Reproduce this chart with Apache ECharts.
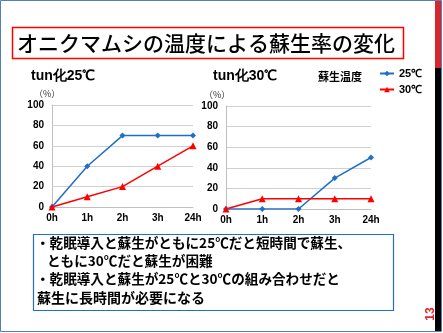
<!DOCTYPE html>
<html><head><meta charset="utf-8">
<script src="https://cdn.jsdelivr.net/npm/echarts@6/dist/echarts.min.js"></script>
<style>html,body{margin:0;padding:0;background:#fff}#c{width:443px;height:333px}</style>
</head><body><div id="c"></div>
<script>
const categories = ['0h','1h','2h','3h','24h'];
const tun25_r25 = [0,40,70,70,70];
const tun25_r30 = [0,10,20,40,60];
const tun30_r25 = [0,0,0,30,50];
const tun30_r30 = [0,10,10,10,10];
const yTicks = [0,20,40,60,80,100];
const seriesNames = ['25℃','30℃'];

const BLUE = '#1f6fc6', RED = '#ff0000';
const jp = '"Noto Sans CJK JP", sans-serif';
const ar = 'Arial, "Liberation Sans", sans-serif';

const chart = echarts.init(document.getElementById('c'), null, {renderer:'canvas'});
function xAxis(i){return {gridIndex:i,type:'category',data:categories,boundaryGap:false,
  axisLine:{lineStyle:{color:'#bfbfbf'}},axisTick:{show:false},
  axisLabel:{color:'#000',fontWeight:'bold',fontFamily:ar,fontSize:10,margin:6}};}
function yAxis(i){return {gridIndex:i,type:'value',min:yTicks[0],max:yTicks[yTicks.length-1],interval:20,
  axisLine:{show:true,lineStyle:{color:'#bfbfbf'}},axisTick:{show:false},
  splitLine:{lineStyle:{color:'#d0d0d0'}},
  axisLabel:{color:'#000',fontWeight:'bold',fontFamily:ar,fontSize:10,margin:8}};}
function s(name,data,i){
  const b = name===seriesNames[0];
  return {name,type:'line',data,xAxisIndex:i,yAxisIndex:i,
    symbol:b?'diamond':'triangle',symbolSize:b?6:7,
    itemStyle:{color:b?BLUE:RED},lineStyle:{color:b?BLUE:RED,width:1.5}};
}
chart.setOption({
  animation:false,
  grid:[{left:52,top:105,width:141,height:102},{left:226,top:106,width:145,height:103}],
  xAxis:[xAxis(0),xAxis(1)],
  yAxis:[yAxis(0),yAxis(1)],
  legend:{orient:'vertical',left:374,top:63,itemGap:5,itemWidth:14,itemHeight:7,
    data:seriesNames,textStyle:{fontFamily:ar,fontWeight:'bold',fontSize:11,color:'#000'}},
  series:[s(seriesNames[0],tun25_r25,0),s(seriesNames[1],tun25_r30,0),
          s(seriesNames[0],tun30_r25,1),s(seriesNames[1],tun30_r30,1)],
  graphic:[
    {type:'rect',shape:{x:0.5,y:0.5,width:441,height:331},style:{fill:null,stroke:'#4f81bd',lineWidth:1}},
    {type:'rect',shape:{x:435,y:1,width:6,height:67},style:{fill:'#d9262c'}},
    {type:'rect',shape:{x:435,y:68,width:6,height:263},style:{fill:'#000'}},
    {type:'rect',shape:{x:12.5,y:27.5,width:391,height:31},style:{fill:null,stroke:'#ff0000',lineWidth:1.5}},
    {type:'text',x:17,y:43,style:{text:'オニクマムシの温度による蘇生率の変化',font:'500 21px '+jp,fill:'#000',textVerticalAlign:'middle'}},
    {type:'text',x:31,y:76,style:{text:'tun化25℃',font:'bold 14px '+ar,fill:'#000',textVerticalAlign:'middle'}},
    {type:'text',x:213,y:76,style:{text:'tun化30℃',font:'bold 14px '+ar,fill:'#000',textVerticalAlign:'middle'}},
    {type:'text',x:34,y:94,style:{text:'（%）',font:'9px '+jp,fill:'#333',textVerticalAlign:'middle'}},
    {type:'text',x:204,y:95,style:{text:'（%）',font:'9px '+jp,fill:'#333',textVerticalAlign:'middle'}},
    {type:'text',x:318,y:77,style:{text:'蘇生温度',font:'bold 11px '+jp,fill:'#000',textVerticalAlign:'middle'}},
    {type:'rect',shape:{x:33.5,y:234.5,width:360,height:76},style:{fill:null,stroke:'#1f6fc6',lineWidth:1.2}},
    {type:'text',x:36,y:243,style:{text:'・乾眠導入と蘇生がともに25℃だと短時間で蘇生、',font:'bold 13.6px '+jp,fill:'#000',textVerticalAlign:'middle'}},
    {type:'text',x:47,y:261,style:{text:'ともに30℃だと蘇生が困難',font:'bold 13.6px '+jp,fill:'#000',textVerticalAlign:'middle'}},
    {type:'text',x:36,y:279,style:{text:'・乾眠導入と蘇生が25℃と30℃の組み合わせだと',font:'bold 13.6px '+jp,fill:'#000',textVerticalAlign:'middle'}},
    {type:'text',x:37,y:298,style:{text:'蘇生に長時間が必要になる',font:'bold 14px '+jp,fill:'#000',textVerticalAlign:'middle'}},
    {type:'text',x:431,y:314,rotation:Math.PI/2,style:{text:'13',font:'bold 12px '+ar,fill:'#e0262c',textAlign:'center',textVerticalAlign:'middle'}}
  ]
});
</script></body></html>
